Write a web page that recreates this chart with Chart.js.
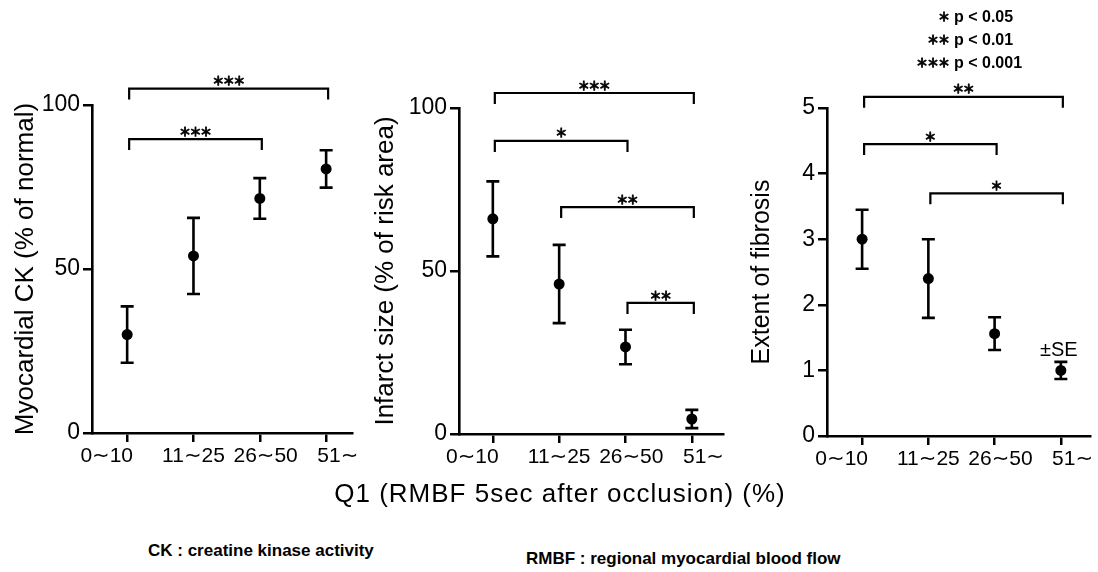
<!DOCTYPE html>
<html>
<head>
<meta charset="utf-8">
<script src="https://cdn.jsdelivr.net/npm/chart.js@4.4.1/dist/chart.umd.min.js"></script>
<style>
  html, body { margin:0; padding:0; background:#fff; }
  body { width:1098px; height:572px; position:relative; overflow:hidden; font-family:'Liberation Sans','Noto Sans CJK JP',sans-serif; color:#000; }
  .pane { position:absolute; top:0; }
  .txt { position:absolute; white-space:nowrap; }
  #legend { left:878px; top:5px; font-weight:bold; font-size:16px; line-height:23px; }
  #legend .row { display:flex; align-items:center; }
  #legend .st { width:71px; text-align:right; padding-right:5px; font-family:'Noto Sans CJK JP',sans-serif; font-weight:bold; font-size:12px; letter-spacing:-1px; -webkit-text-stroke:0.8px #000; }
  #se { left:1040px; top:338px; font-size:20px; }
  #q1 { left:560px; top:478px; font-size:26px; letter-spacing:1px; transform:translateX(-50%); }
  #ck { left:148px; top:541px; font-size:17px; font-weight:bold; }
  #rmbf { left:526px; top:549px; font-size:17px; font-weight:bold; }
</style>
</head>
<body>
<div class="pane" style="left:0px"><canvas id="c1" width="366" height="480"></canvas></div>
<div class="pane" style="left:366px"><canvas id="c2" width="366" height="480"></canvas></div>
<div class="pane" style="left:732px"><canvas id="c3" width="366" height="480"></canvas></div>

<div class="txt" id="legend">
  <div class="row"><span class="st">＊</span><span>p &lt; 0.05</span></div>
  <div class="row"><span class="st">＊＊</span><span>p &lt; 0.01</span></div>
  <div class="row"><span class="st">＊＊＊</span><span>p &lt; 0.001</span></div>
</div>
<div class="txt" id="se">±SE</div>
<div class="txt" id="q1">Q1 (RMBF 5sec after occlusion) (%)</div>
<div class="txt" id="ck">CK : creatine kinase activity</div>
<div class="txt" id="rmbf">RMBF : regional myocardial blood flow</div>

<script>
// ---- data ----
const categories = ['0∼10', '11∼25', '26∼50', '51∼'];

const ckMean = [30, 54, 71.5, 80.5];
const ckSE   = [8.6, 11.6, 6.2, 5.7];

const infarctMean = [66, 46, 26.7, 4.6];
const infarctSE   = [11.5, 12, 5.3, 2.8];

const fibrosisMean = [3.0, 2.4, 1.56, 1.0];
const fibrosisSE   = [0.45, 0.6, 0.25, 0.13];

const ckTicks = [0, 50, 100];
const infarctTicks = [0, 50, 100];
const fibrosisTicks = [0, 1, 2, 3, 4, 5];

// significance brackets: [from category, to category, level, label]
const ckBrackets = [[0, 3, 105, '***'], [0, 2, 89.6, '***']];
const infarctBrackets = [[0, 3, 104.6, '***'], [0, 2, 89.9, '*'], [1, 3, 69.6, '**'], [2, 3, 40.2, '**']];
const fibrosisBrackets = [[0, 3, 5.17, '**'], [0, 2, 4.45, '*'], [1, 3, 3.70, '*']];

// ---- drawing ----
const FONT = "'Liberation Sans','DejaVu Sans','Noto Sans CJK JP',sans-serif";
// typeset label nudges (spaces before / after each label, as in the original print)
const LABEL_PAD = [[0, 7], [0, 0], [2, 0], [4, 0]];
function padLabel(i) {
  const p = LABEL_PAD[i] || [0, 0];
  return ' '.repeat(p[0]) + categories[i] + ' '.repeat(p[1]);
}

const errPlugin = {
  id: 'errbars',
  beforeDatasetsDraw(chart) {
    const ctx = chart.ctx, xs = chart.scales.x, ys = chart.scales.y;
    const se = chart.options.plugins.errbars.se;
    const means = chart.options.plugins.errbars.means;
    ctx.save();
    ctx.strokeStyle = '#000';
    ctx.lineWidth = 2.6;
    means.forEach((m, i) => {
      const x = xs.getPixelForValue(i);
      const yt = ys.getPixelForValue(m + se[i]);
      const yb = ys.getPixelForValue(m - se[i]);
      ctx.beginPath();
      ctx.moveTo(x, yt); ctx.lineTo(x, yb);
      ctx.moveTo(x - 6.5, yt); ctx.lineTo(x + 6.5, yt);
      ctx.moveTo(x - 6.5, yb); ctx.lineTo(x + 6.5, yb);
      ctx.stroke();
    });
    ctx.restore();
  },
  afterDraw(chart) {
    const ctx = chart.ctx, xs = chart.scales.x, ys = chart.scales.y;
    const br = chart.options.plugins.errbars.brackets;
    ctx.save();
    ctx.strokeStyle = '#000';
    ctx.fillStyle = '#000';
    ctx.font = "bold 12px 'Noto Sans CJK JP'";
    ctx.textAlign = 'center';
    ctx.textBaseline = 'middle';
    br.forEach(([a, b, lvl, lab]) => {
      const x1 = xs.getPixelForValue(a) + 2, x2 = xs.getPixelForValue(b) + 2;
      const y = ys.getPixelForValue(lvl);
      ctx.lineWidth = 2.2;
      ctx.beginPath();
      ctx.moveTo(x1, y + 11); ctx.lineTo(x1, y); ctx.lineTo(x2, y); ctx.lineTo(x2, y + 11);
      ctx.stroke();
      ctx.lineWidth = 0.8;
      const n = lab.length, cx = (x1 + x2) / 2, step = 10.5;
      for (let k = 0; k < n; k++) {
        const sx = cx + (k - (n - 1) / 2) * step;
        ctx.fillText('＊', sx, y - 7);
        ctx.strokeText('＊', sx, y - 7);
      }
    });
    ctx.restore();
  }
};

function makePanel(id, means, se, ticks, title, brackets, geo) {
  const gridCfg = { display: true, drawOnChartArea: false, drawTicks: true, tickLength: 9, lineWidth: 2.5, color: '#000' };
  new Chart(document.getElementById(id), {
    type: 'scatter',
    data: {
      datasets: [{
        data: means.map((m, i) => ({ x: i, y: m })),
        pointRadius: 5.5,
        pointBackgroundColor: '#000',
        pointBorderWidth: 0,
        showLine: false
      }]
    },
    options: {
      responsive: false,
      animation: false,
      devicePixelRatio: 1,
      layout: { padding: { left: 0, top: geo.top, right: geo.right, bottom: geo.bottom } },
      plugins: {
        legend: { display: false },
        tooltip: { enabled: false },
        errbars: { means: means, se: se, brackets: brackets }
      },
      scales: {
        x: {
          type: 'linear',
          min: geo.xmin, max: geo.xmax,
          afterBuildTicks: s => { s.ticks = categories.map((c, i) => ({ value: i })); },
          afterFit: s => { s.height = 40; },
          grid: gridCfg,
          border: { display: true, color: '#000', width: 2.6 },
          ticks: {
            color: '#000', padding: 2, maxRotation: 0, autoSkip: false,
            font: { family: FONT, size: 21 },
            callback: v => padLabel(v)
          }
        },
        y: {
          min: ticks[0], max: ticks[ticks.length - 1],
          afterBuildTicks: s => { s.ticks = ticks.map(v => ({ value: v })); },
          afterFit: s => { s.width = geo.yw; },
          grid: gridCfg,
          border: { display: true, color: '#000', width: 2.6 },
          ticks: { color: '#000', padding: 3, font: { family: FONT, size: 23 } },
          title: {
            display: true, text: title, color: '#000',
            font: { family: FONT, size: geo.ts },
            padding: { top: geo.tp, bottom: 0 }
          }
        }
      }
    },
    plugins: [errPlugin]
  });
}

makePanel('c1', ckMean, ckSE, ckTicks, 'Myocardial CK (% of normal)', ckBrackets,
  { top: 105, right: 14, bottom: 7, xmin: -0.53, xmax: 3.39, yw: 92, tp: 10, ts: 26 });
makePanel('c2', infarctMean, infarctSE, infarctTicks, 'Infarct size (% of risk area)', infarctBrackets,
  { top: 108, right: 9, bottom: 6, xmin: -0.51, xmax: 3.47, yw: 93, tp: 4, ts: 26 });
makePanel('c3', fibrosisMean, fibrosisSE, fibrosisTicks, 'Extent of fibrosis', fibrosisBrackets,
  { top: 108, right: 8, bottom: 4, xmin: -0.53, xmax: 3.44, yw: 95, tp: 15, ts: 25 });
</script>
</body>
</html>
